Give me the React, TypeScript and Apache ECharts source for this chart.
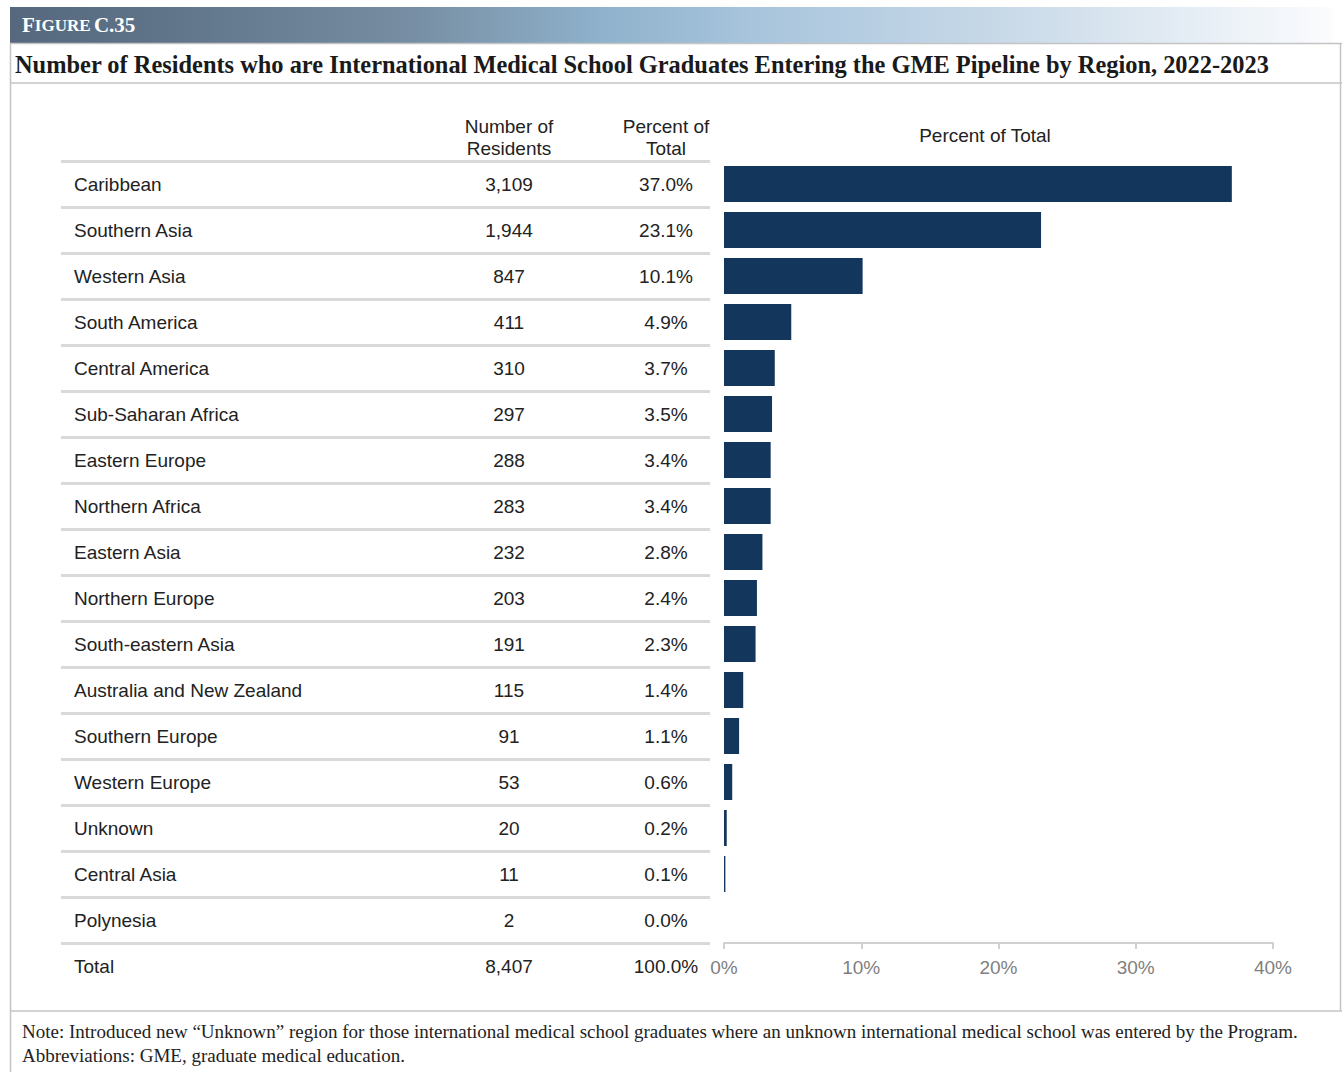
import React, { useEffect, useRef } from "react";
import * as echarts from "echarts";

const regions = [
  "Caribbean",
  "Southern Asia",
  "Western Asia",
  "South America",
  "Central America",
  "Sub-Saharan Africa",
  "Eastern Europe",
  "Northern Africa",
  "Eastern Asia",
  "Northern Europe",
  "South-eastern Asia",
  "Australia and New Zealand",
  "Southern Europe",
  "Western Europe",
  "Unknown",
  "Central Asia",
  "Polynesia",
];
const residents = [3109, 1944, 847, 411, 310, 297, 288, 283, 232, 203, 191, 115, 91, 53, 20, 11, 2];
const percents = [37.0, 23.1, 10.1, 4.9, 3.7, 3.5, 3.4, 3.4, 2.8, 2.4, 2.3, 1.4, 1.1, 0.6, 0.2, 0.1, 0.0];
const totalResidents = 8407;
const totalPercent = 100.0;
const xMin = 0;
const xMax = 40;
const xInterval = 10;

const SANS = "'Liberation Sans', Arial, Helvetica, sans-serif";
const SERIF = "'Liberation Serif', 'Times New Roman', serif";
const TEXT = "#222222";

export default function App() {
  const ref = useRef<HTMLDivElement>(null);

  useEffect(() => {
    if (!ref.current) return;
    const chart = echarts.init(ref.current, null, { renderer: "svg" });

    const fmtNum = (n: number) => n.toLocaleString("en-US");
    const fmtPct = (p: number) => p.toFixed(1) + "%";

    const lineColor = "#c4c4c4";

    const option: any = {
      animation: false,
      backgroundColor: "#ffffff",
      grid: [
        { left: 724, top: 161, width: 549, height: 782, containLabel: false },
        { left: 61, top: 161, width: 649, height: 782, containLabel: false },
      ],
      xAxis: [
        {
          gridIndex: 0,
          type: "value",
          min: xMin,
          max: xMax,
          interval: xInterval,
          axisLine: { show: true, onZero: false, lineStyle: { color: "#d0d0d0", width: 2 } },
          axisTick: { show: true, length: 6, lineStyle: { color: "#d0d0d0", width: 2 } },
          axisLabel: {
            formatter: "{value}%",
            color: "#7f7f7f",
            fontSize: 19,
            margin: 15,
            fontFamily: SANS,
          },
          splitLine: { show: false },
        },
        { gridIndex: 1, type: "value", show: false, min: 0, max: 1 },
      ],
      yAxis: [
        {
          gridIndex: 0,
          type: "category",
          data: regions,
          inverse: true,
          show: false,
        },
        {
          gridIndex: 1,
          type: "category",
          data: regions,
          inverse: true,
          position: "left",
          axisLine: { show: false },
          axisTick: { show: false },
          axisLabel: {
            inside: true,
            align: "left",
            margin: 13,
            interval: 0,
            color: TEXT,
            fontSize: 19,
            fontFamily: SANS,
          },
          splitLine: { show: true, interval: 0, lineStyle: { color: "#d9d9d9", width: 3 } },
        },
        {
          gridIndex: 1,
          type: "category",
          data: residents.map(fmtNum),
          inverse: true,
          position: "right",
          axisLine: { show: false },
          axisTick: { show: false },
          axisLabel: {
            inside: true,
            align: "center",
            margin: 201,
            interval: 0,
            color: TEXT,
            fontSize: 19,
            fontFamily: SANS,
          },
          splitLine: { show: false },
        },
        {
          gridIndex: 1,
          type: "category",
          data: percents.map(fmtPct),
          inverse: true,
          position: "right",
          axisLine: { show: false },
          axisTick: { show: false },
          axisLabel: {
            inside: true,
            align: "center",
            margin: 44,
            interval: 0,
            color: TEXT,
            fontSize: 19,
            fontFamily: SANS,
          },
          splitLine: { show: false },
        },
      ],
      series: [
        {
          type: "bar",
          xAxisIndex: 0,
          yAxisIndex: 0,
          data: percents,
          barWidth: 36,
          itemStyle: { color: "#13365c" },
          silent: true,
        },
      ],
      graphic: [
        {
          type: "rect",
          shape: { x: 10, y: 7, width: 1322, height: 36 },
          style: {
            fill: new echarts.graphic.LinearGradient(0, 0, 1, 0, [
              { offset: 0, color: "#55687e" },
              { offset: 0.106, color: "#5e7388" },
              { offset: 0.295, color: "#758ca1" },
              { offset: 0.446, color: "#8fb1cb" },
              { offset: 0.56, color: "#a7c4dc" },
              { offset: 0.749, color: "#c8d9e8" },
              { offset: 1, color: "#fbfcfe" },
            ]),
          },
          silent: true,
        },
        {
          type: "text",
          x: 22,
          y: 25,
          style: {
            text: "{a|F}{b|IGURE} {a|C.35}",
            verticalAlign: "middle",
            align: "left",
            rich: {
              a: { fontFamily: SERIF, fontWeight: "bold", fontSize: 21, fill: "#ffffff" },
              b: { fontFamily: SERIF, fontWeight: "bold", fontSize: 17, fill: "#ffffff" },
            },
          },
        },
        // frame lines
        { type: "line", shape: { x1: 10, y1: 43.5, x2: 1342, y2: 43.5 }, style: { stroke: lineColor, lineWidth: 1.5 } },
        { type: "line", shape: { x1: 10, y1: 83, x2: 1342, y2: 83 }, style: { stroke: lineColor, lineWidth: 1.5 } },
        { type: "line", shape: { x1: 10.5, y1: 43, x2: 10.5, y2: 1072 }, style: { stroke: lineColor, lineWidth: 1.5 } },
        { type: "line", shape: { x1: 1340.5, y1: 43, x2: 1340.5, y2: 1011 }, style: { stroke: lineColor, lineWidth: 1.5 } },
        { type: "line", shape: { x1: 10, y1: 1011, x2: 1342, y2: 1011 }, style: { stroke: lineColor, lineWidth: 1.5 } },
        {
          type: "text",
          x: 15,
          y: 64,
          style: {
            text: "Number of Residents who are International Medical School Graduates Entering the GME Pipeline by Region, 2022-2023",
            fontFamily: SERIF,
            fontWeight: "bold",
            fontSize: 24.4,
            fill: "#1a1a1a",
            verticalAlign: "middle",
            align: "left",
          },
        },
        // column headers
        {
          type: "text",
          x: 509,
          y: 137,
          style: {
            text: "Number of\nResidents",
            fontFamily: SANS,
            fontSize: 19,
            lineHeight: 22,
            fill: TEXT,
            align: "center",
            verticalAlign: "middle",
          },
        },
        {
          type: "text",
          x: 666,
          y: 137,
          style: {
            text: "Percent of\nTotal",
            fontFamily: SANS,
            fontSize: 19,
            lineHeight: 22,
            fill: TEXT,
            align: "center",
            verticalAlign: "middle",
          },
        },
        {
          type: "text",
          x: 985,
          y: 135,
          style: {
            text: "Percent of Total",
            fontFamily: SANS,
            fontSize: 19,
            fill: TEXT,
            align: "center",
            verticalAlign: "middle",
          },
        },
        // total row
        {
          type: "text",
          x: 74,
          y: 966,
          style: { text: "Total", fontFamily: SANS, fontSize: 19, fill: TEXT, align: "left", verticalAlign: "middle" },
        },
        {
          type: "text",
          x: 509,
          y: 966,
          style: { text: fmtNum(totalResidents), fontFamily: SANS, fontSize: 19, fill: TEXT, align: "center", verticalAlign: "middle" },
        },
        {
          type: "text",
          x: 666,
          y: 966,
          style: { text: fmtPct(totalPercent), fontFamily: SANS, fontSize: 19, fill: TEXT, align: "center", verticalAlign: "middle" },
        },
        // notes
        {
          type: "text",
          x: 22,
          y: 1031,
          style: {
            text: "Note: Introduced new \u201cUnknown\u201d region for those international medical school graduates where an unknown international medical school was entered by the Program.",
            fontFamily: SERIF,
            fontSize: 19,
            fill: "#222222",
            align: "left",
            verticalAlign: "middle",
          },
        },
        {
          type: "text",
          x: 22,
          y: 1055,
          style: {
            text: "Abbreviations: GME, graduate medical education.",
            fontFamily: SERIF,
            fontSize: 19,
            fill: "#222222",
            align: "left",
            verticalAlign: "middle",
          },
        },
      ],
    };

    chart.setOption(option);
    return () => chart.dispose();
  }, []);

  return (
    <div
      ref={ref}
      style={{ position: "absolute", left: 0, top: 0, width: 1342, height: 1072, background: "#fff" }}
    />
  );
}
